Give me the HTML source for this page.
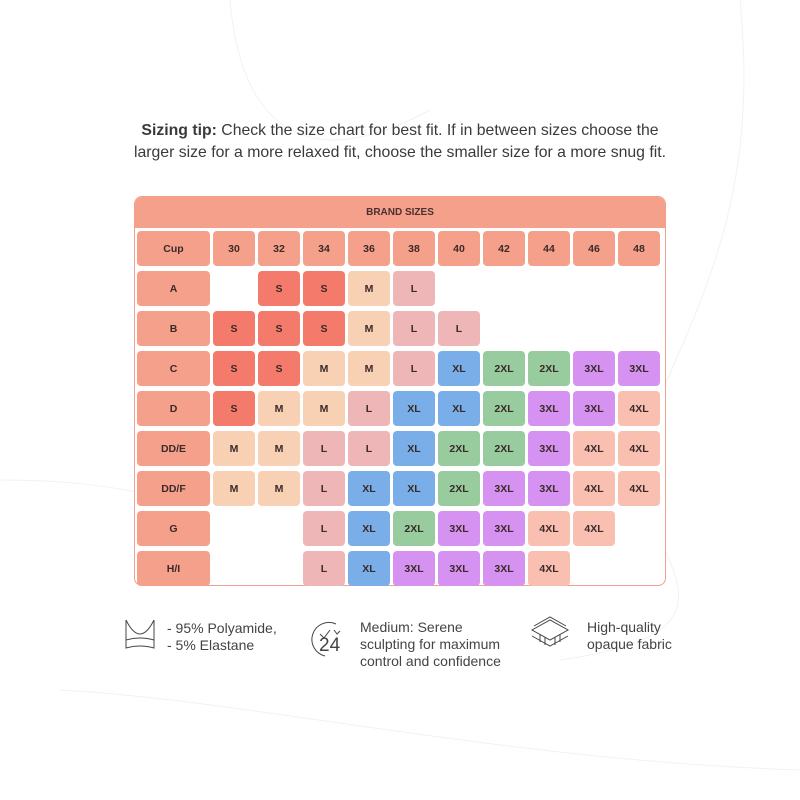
<!DOCTYPE html>
<html><head><meta charset="utf-8"><style>
body{margin:0;width:800px;height:800px;background:#fff;position:relative;overflow:hidden;font-family:"Liberation Sans",sans-serif;color:#333}
.tip{position:absolute;top:120px;left:0;width:800px;text-align:center;font-size:15.8px;line-height:22px;color:#3a3a3a}
.box{position:absolute;left:134px;top:196px;width:532px;height:390px;box-sizing:border-box;border:1px solid #f0a08c;border-radius:8px;background:#fff}
.hd{position:absolute;left:0;top:0;width:530px;height:31px;background:#f5a08b;border-radius:7px 7px 0 0;text-align:center;line-height:31px;font-size:10px;font-weight:bold;color:#4a3030}
.g{position:absolute;left:2px;top:34px;display:grid;grid-template-columns:73px repeat(10,42px);grid-auto-rows:35px;column-gap:3px;row-gap:5px}
.g div{border-radius:4px;display:flex;align-items:center;justify-content:center;font-size:10.5px;font-weight:bold;color:#3a2a2a}
.h{background:#f5a08b}.S{background:#f47b6b}.M{background:#f8d0b4}.L{background:#eeb6b6}.X{background:#7aaee8}.X2{background:#98cc9e}.X3{background:#d692f0}.X4{background:#f9bfb0}
.e{background:transparent}
.f{position:absolute;font-size:14px;line-height:17px;color:#444}
</style></head><body>
<svg width="800" height="800" style="position:absolute;left:0;top:0" fill="none" stroke="#f2f2f2" stroke-width="1">
<path d="M230 0 C240 120 300 180 430 110"/><path d="M740 0 C760 200 700 300 650 420"/><path d="M0 480 C120 480 200 500 330 560"/><path d="M60 690 C250 700 500 760 800 770"/><path d="M660 540 C690 600 700 640 560 660"/>
</svg>
<div class="tip"><b>Sizing tip:</b> Check the size chart for best fit. If in between sizes choose the<br>larger size for a more relaxed fit, choose the smaller size for a more snug fit.</div>
<div class="box"><div class="hd">BRAND SIZES</div>
<div class="g">
<div class="h">Cup</div><div class="h">30</div><div class="h">32</div><div class="h">34</div><div class="h">36</div><div class="h">38</div><div class="h">40</div><div class="h">42</div><div class="h">44</div><div class="h">46</div><div class="h">48</div>
<div class="h">A</div><div class="e"></div><div class="S">S</div><div class="S">S</div><div class="M">M</div><div class="L">L</div><div class="e"></div><div class="e"></div><div class="e"></div><div class="e"></div><div class="e"></div>
<div class="h">B</div><div class="S">S</div><div class="S">S</div><div class="S">S</div><div class="M">M</div><div class="L">L</div><div class="L">L</div><div class="e"></div><div class="e"></div><div class="e"></div><div class="e"></div>
<div class="h">C</div><div class="S">S</div><div class="S">S</div><div class="M">M</div><div class="M">M</div><div class="L">L</div><div class="X">XL</div><div class="X2">2XL</div><div class="X2">2XL</div><div class="X3">3XL</div><div class="X3">3XL</div>
<div class="h">D</div><div class="S">S</div><div class="M">M</div><div class="M">M</div><div class="L">L</div><div class="X">XL</div><div class="X">XL</div><div class="X2">2XL</div><div class="X3">3XL</div><div class="X3">3XL</div><div class="X4">4XL</div>
<div class="h">DD/E</div><div class="M">M</div><div class="M">M</div><div class="L">L</div><div class="L">L</div><div class="X">XL</div><div class="X2">2XL</div><div class="X2">2XL</div><div class="X3">3XL</div><div class="X4">4XL</div><div class="X4">4XL</div>
<div class="h">DD/F</div><div class="M">M</div><div class="M">M</div><div class="L">L</div><div class="X">XL</div><div class="X">XL</div><div class="X2">2XL</div><div class="X3">3XL</div><div class="X3">3XL</div><div class="X4">4XL</div><div class="X4">4XL</div>
<div class="h">G</div><div class="e"></div><div class="e"></div><div class="L">L</div><div class="X">XL</div><div class="X2">2XL</div><div class="X3">3XL</div><div class="X3">3XL</div><div class="X4">4XL</div><div class="X4">4XL</div><div class="e"></div>
<div class="h">H/I</div><div class="e"></div><div class="e"></div><div class="L">L</div><div class="X">XL</div><div class="X3">3XL</div><div class="X3">3XL</div><div class="X3">3XL</div><div class="X4">4XL</div><div class="e"></div><div class="e"></div>
</div></div>
<svg width="800" height="800" style="position:absolute;left:0;top:0" fill="none" stroke="#444" stroke-width="1">
<path d="M126 620 L126 648 Q140 644 154 648 L154 620 M126 620 Q140 648 154 620 M126 640 Q140 636 154 640"/>
<path d="M336 624 A17 17 0 1 0 325 656"/><path d="M334 630 l3 4 3-3"/><path d="M320 634 l4 4 6-8"/>
<path d="M532 630 l18-10 18 10 -18 10z M532 636 l18 10 18-10 M534 626 l16 -9 16 9"/><path d="M540 634 v8 M545 637 v8 M555 637 v8 M560 634 v8"/>
</svg>
<div class="f" style="left:319px;top:637px;font-size:19px">24</div>
<div class="f" style="left:167px;top:620px">- 95% Polyamide,<br>- 5% Elastane</div>
<div class="f" style="left:360px;top:619px">Medium: Serene<br>sculpting for maximum<br>control and confidence</div>
<div class="f" style="left:587px;top:619px">High-quality<br>opaque fabric</div>
</body></html>
